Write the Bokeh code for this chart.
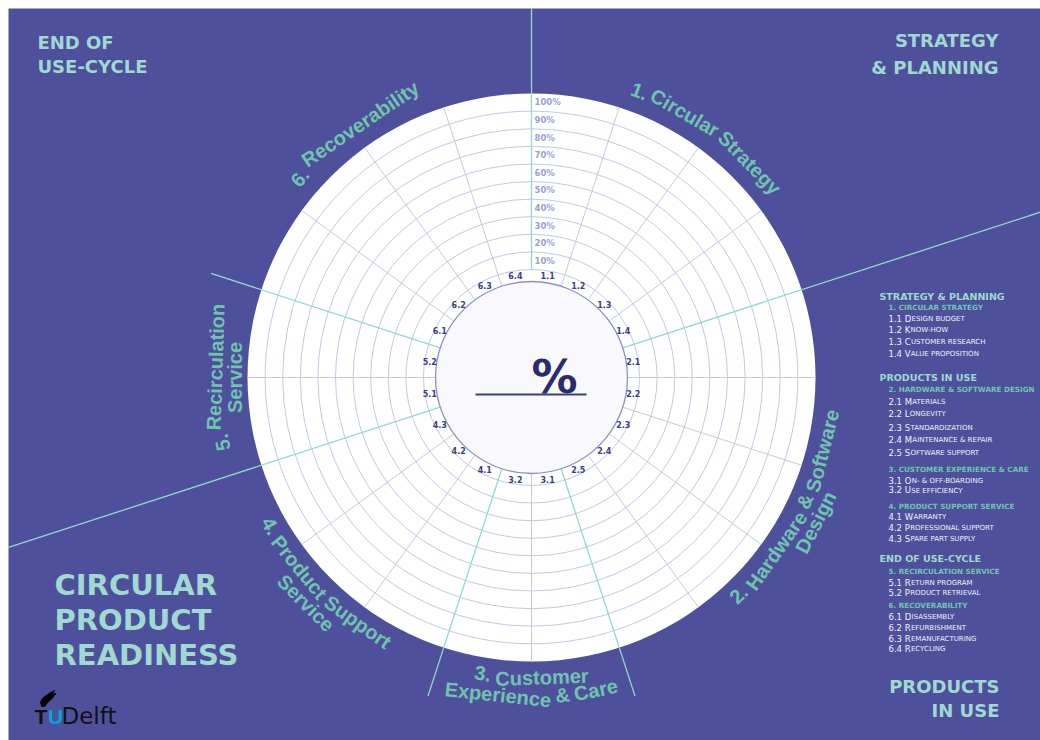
import math
from bokeh.plotting import figure
from bokeh.models import Range1d
from bokeh.embed import file_html
from bokeh.resources import INLINE
from bokeh.core.properties import value

# ---------------- data ----------------
SECTOR_LABEL_LINES = [
    ["1. Circular Strategy"],
    ["2. Hardware & Software", "Design"],
    ["3. Customer", "Experience & Care"],
    ["4. Product Support", "Service"],
    ["5. Recirculation", "Service"],
    ["6. Recoverability"],
]
SECTOR_ITEM_COUNTS = [4, 5, 2, 3, 2, 4]
ITEM_CODES = ["1.1", "1.2", "1.3", "1.4", "2.1", "2.2", "2.3", "2.4", "2.5",
              "3.1", "3.2", "4.1", "4.2", "4.3", "5.1", "5.2",
              "6.1", "6.2", "6.3", "6.4"]
ITEM_NAMES = ["Design budget", "Know-how", "Customer research", "Value proposition",
              "Materials", "Longevity", "Standardization", "Maintenance & repair",
              "Software support", "On- & off-boarding", "Use efficiency",
              "Warranty", "Professional support", "Spare part supply",
              "Return program", "Product retrieval",
              "Disassembly", "Refurbishment", "Remanufacturing", "Recycling"]
PERCENT_TICKS = [10, 20, 30, 40, 50, 60, 70, 80, 90, 100]
PHASES = ["STRATEGY & PLANNING", "PRODUCTS IN USE", "END OF USE-CYCLE"]
PHASE_SECTORS = [[0], [1, 2, 3], [4, 5]]
SECTOR_HEADINGS = ["1. CIRCULAR STRATEGY", "2. HARDWARE & SOFTWARE DESIGN",
                   "3. CUSTOMER EXPERIENCE & CARE", "4. PRODUCT SUPPORT SERVICE",
                   "5. RECIRCULATION SERVICE", "6. RECOVERABILITY"]
CORNER_TL = ["END OF", "USE-CYCLE"]
CORNER_TR = ["STRATEGY", "& PLANNING"]
CORNER_BR = ["PRODUCTS", "IN USE"]
TITLE_LINES = ["CIRCULAR", "PRODUCT", "READINESS"]
CENTER_SYMBOL = "%"
LOGO_PARTS = ["T", "U", "Delft"]

# ---------------- layout / style ----------------
W, H = 1040, 740
PAGE_L, PAGE_T = 8, 8          # white margin at top-left, as in the original page
BG = "#4f509b"
TEAL_LIGHT = "#9fd9d0"
TEAL = "#6fc4af"
SPOKE_TEAL = "#93d8cc"
GRID = "#c4c8e6"
NAVY = "#3b3d88"
PCT = "#9ba1d0"
ITEM_TXT = "#eef0fa"
MID = 0.346   # em-box middle above the baseline (DejaVu Sans)


def X(xi):
    return xi


def Y(yi):
    return H - yi


CXI, CYI = 531, 377
CX, CY = X(CXI), Y(CYI)
R_IN, R_LAB, R_OUT = 96, 108, 284
BAND = (R_OUT - R_LAB) / 10.0
N_ITEMS = sum(SECTOR_ITEM_COUNTS)
STEP = 360.0 / N_ITEMS


def pol(r, th):
    t = math.radians(th)
    return CX + r * math.sin(t), CY + r * math.cos(t)


def ray_end(th, rmax):
    """radius at which the ray leaves the purple panel (image coords)."""
    t = math.radians(th)
    dx, dy = math.sin(t), -math.cos(t)
    lim = [rmax]
    if dx > 1e-9:
        lim.append((W - CXI) / dx)
    elif dx < -1e-9:
        lim.append((PAGE_L - CXI) / dx)
    if dy > 1e-9:
        lim.append((H - CYI) / dy)
    elif dy < -1e-9:
        lim.append((PAGE_T - CYI) / dy)
    return min(lim)


# Liberation Sans Bold advance widths (em)
LSB = {" ": .278, "&": .722, "-": .333, ".": .278}
for c in "0123456789":
    LSB[c] = .556
LSB.update(dict(zip("ABCDEFGHIJKLMNOPQRSTUVWXYZ",
                    [.722, .722, .722, .722, .667, .611, .778, .722, .278, .556, .722, .611, .833,
                     .722, .778, .667, .778, .722, .667, .611, .722, .667, .944, .667, .667, .611])))
LSB.update(dict(zip("abcdefghijklmnopqrstuvwxyz",
                    [.556, .611, .556, .611, .556, .333, .611, .611, .278, .278, .556, .278, .889,
                     .611, .611, .611, .611, .389, .556, .333, .611, .556, .778, .556, .556, .5])))
# DejaVu Sans regular advance widths (em)
DVS = {" ": .318, ".": .318, "&": .780, "-": .361}
for c in "0123456789":
    DVS[c] = .636
DVS.update(dict(zip("ABCDEFGHIJKLMNOPQRSTUVWXYZ",
                    [.684, .686, .698, .770, .632, .575, .775, .752, .295, .295, .656, .557, .863,
                     .748, .787, .603, .787, .695, .635, .611, .732, .684, .989, .685, .611, .685])))


def tw(s, size, table):
    return sum(table.get(c, 0.6) for c in s) * size


p = figure(width=W, height=H, x_range=Range1d(0, W), y_range=Range1d(0, H),
           output_backend="svg", toolbar_location=None, min_border=0)
p.axis.visible = False
p.grid.visible = False
p.outline_line_color = None
p.background_fill_color = "white"
p.border_fill_color = "white"

# purple panel
p.quad(left=[PAGE_L], right=[W], bottom=[0], top=[H - PAGE_T], fill_color=BG, line_color=None)

# sector boundaries
starts = []
acc = 0
for n in SECTOR_ITEM_COUNTS:
    starts.append(acc)
    acc += n
bound_angles = [s * STEP for s in starts]
EXT = [2000, 2000, 335, 335, 2000, 337]

# outer disk
p.circle(x=[CX], y=[CY], radius=R_OUT, fill_color="white", line_color=None)
# rings
ring_r = [R_LAB + BAND * k for k in range(10)]
p.circle(x=[CX] * len(ring_r), y=[CY] * len(ring_r), radius=ring_r,
         fill_color=None, line_color=GRID, line_width=1)
# light spokes
x0, y0, x1, y1 = [], [], [], []
for k in range(N_ITEMS):
    th = k * STEP
    if th in bound_angles:
        continue
    a = pol(R_IN, th)
    b = pol(R_OUT, th)
    x0.append(a[0]); y0.append(a[1]); x1.append(b[0]); y1.append(b[1])
p.segment(x0=x0, y0=y0, x1=x1, y1=y1, line_color=GRID, line_width=1)
# teal boundary spokes (extending outside)
x0, y0, x1, y1 = [], [], [], []
for th, ext in zip(bound_angles, EXT):
    a = pol(R_LAB if th == 0 else R_IN, th)
    b = pol(ray_end(th, ext), th)
    x0.append(a[0]); y0.append(a[1]); x1.append(b[0]); y1.append(b[1])
p.segment(x0=x0, y0=y0, x1=x1, y1=y1, line_color=SPOKE_TEAL, line_width=1.3)

# inner circle
p.circle(x=[CX], y=[CY], radius=R_IN, fill_color="#f8f8fd", line_color="#8a8fc9", line_width=1.3)

# percent labels
p.text(x=[CX + 3] * 10, y=[CY + R_LAB + BAND * (i + 0.5) for i in range(10)],
       text=["%d%%" % v for v in PERCENT_TICKS], text_font=value("DejaVu Sans"),
       text_font_size="8.5px", text_font_style="bold", text_color=PCT,
       text_align="left", text_baseline="middle")

# item code labels
lx, ly = [], []
for k in range(N_ITEMS):
    xx, yy = pol(103, (k + 0.5) * STEP)
    lx.append(xx); ly.append(yy)
p.text(x=lx, y=ly, text=ITEM_CODES, text_font=value("DejaVu Sans"), text_font_size="8px",
       text_font_style="bold", text_color=NAVY, text_align="center", text_baseline="middle")

# curved sector labels (word by word along the arc)
FS = 20
GAP = 0.75 * tw(" ", FS, LSB)
wx, wy, wt, wa = [], [], [], []
for si, lines in enumerate(SECTOR_LABEL_LINES):
    mid = (starts[si] + SECTOR_ITEM_COUNTS[si] / 2.0) * STEP
    bottom = 90 < mid < 260
    if len(lines) == 1:
        radii = [306]
    elif bottom:
        radii = [300, 319]
    else:
        radii = [316, 297]
    for line, r in zip(lines, radii):
        words = line.split(" ")
        L = sum(tw(w, FS, LSB) for w in words) + GAP * (len(words) - 1)
        s = -L / 2.0
        for w in words:
            wl = tw(w, FS, LSB)
            sc = s + wl / 2.0
            dth = math.degrees(sc / r)
            th = mid - dth if bottom else mid + dth
            xx, yy = pol(r, th)
            wx.append(xx); wy.append(yy); wt.append(w)
            wa.append(math.pi - math.radians(th) if bottom else -math.radians(th))
            s += wl + GAP
p.text(x=wx, y=wy, text=wt, angle=wa, text_font=value("Liberation Sans"),
       text_font_size="%dpx" % FS, text_font_style="bold", text_color=TEAL,
       text_align="center", text_baseline="middle")

# center symbol
p.text(x=[X(554)], y=[Y(376)], text=[CENTER_SYMBOL], text_font=value("DejaVu Sans"),
       text_font_size="46px", text_font_style="bold", text_color="#2b2c6b",
       text_align="center", text_baseline="middle")
p.segment(x0=[X(475)], y0=[Y(394)], x1=[X(586)], y1=[Y(394)], line_color=NAVY, line_width=2)


# corner texts
def corner(lines, xi, centers, align, size):
    p.text(x=[X(xi)] * len(lines), y=[Y(c) for c in centers], text=lines,
           text_font=value("DejaVu Sans"), text_font_size=size, text_font_style="bold",
           text_color=TEAL_LIGHT, text_align=align, text_baseline="middle")


corner(CORNER_TL, 37, [41.5, 65.5], "left", "18px")
corner(CORNER_TR, 998, [40, 66.5], "right", "18px")
corner(CORNER_BR, 999, [686, 710], "right", "18px")
corner(TITLE_LINES, 54, [584, 619, 654], "left", "29px")

# legend
LEGEND_ROW_Y = [296, 307, 318, 329, 341, 353,
                377, 389, 401, 413, 427, 439, 452, 469, 480, 489.5, 506, 516, 527, 538,
                558, 571, 582, 592, 605, 616, 627, 638, 648]
rows = []
for ph, secs in zip(PHASES, PHASE_SECTORS):
    rows.append(("H", ph))
    for si in secs:
        rows.append(("S", SECTOR_HEADINGS[si]))
        for k in range(starts[si], starts[si] + SECTOR_ITEM_COUNTS[si]):
            rows.append(("I", k))
hx, hy, ht = [], [], []
sx, sy, st = [], [], []
px_, py_, pt_ = [], [], []
rx, ry, rt = [], [], []
PRE_FS, REST_FS = 8.5, 7.0
for (kind, v), yc in zip(rows, LEGEND_ROW_Y):
    if kind == "H":
        hx.append(X(879)); hy.append(Y(yc)); ht.append(v)
    elif kind == "S":
        sx.append(X(888)); sy.append(Y(yc)); st.append(v)
    else:
        name = ITEM_NAMES[v]
        pre = ITEM_CODES[v] + " " + name[0]
        rest = name[1:].upper()
        base = yc + 0.36 * PRE_FS
        px_.append(X(888)); py_.append(Y(base - MID * PRE_FS)); pt_.append(pre)
        rx.append(X(888) + tw(pre, PRE_FS, DVS) + 0.3)
        ry.append(Y(base - MID * REST_FS)); rt.append(rest)
p.text(x=hx, y=hy, text=ht, text_font=value("DejaVu Sans"), text_font_size="9.5px",
       text_font_style="bold", text_color=TEAL_LIGHT, text_baseline="middle")
p.text(x=sx, y=sy, text=st, text_font=value("DejaVu Sans"), text_font_size="7.2px",
       text_font_style="bold", text_color=TEAL, text_baseline="middle")
p.text(x=px_, y=py_, text=pt_, text_font=value("DejaVu Sans"), text_font_size="%gpx" % PRE_FS,
       text_color=ITEM_TXT, text_baseline="middle")
p.text(x=rx, y=ry, text=rt, text_font=value("DejaVu Sans"), text_font_size="%gpx" % REST_FS,
       text_color=ITEM_TXT, text_baseline="middle")

# TU Delft logo
flame_x = [41, 40, 41.5, 44, 47, 50, 54, 52, 55.5, 52.5, 49.5, 47, 45.5, 44]
flame_y = [706, 702, 698.5, 696, 694, 692, 690, 693.5, 693, 697, 700, 702, 704.5, 706]
p.patch(x=[X(v) for v in flame_x], y=[Y(v) for v in flame_y], fill_color="black",
        line_color="black", line_width=0.8)
p.text(x=[X(34)], y=[Y(715.5)], text=[LOGO_PARTS[0]], text_font=value("Liberation Sans"),
       text_font_size="21px", text_font_style="bold", text_color="#111111", text_baseline="middle")
p.text(x=[X(47.5)], y=[Y(715.5)], text=[LOGO_PARTS[1]], text_font=value("Liberation Sans"),
       text_font_size="21px", text_font_style="bold", text_color="#00a6d6", text_baseline="middle")
p.text(x=[X(61)], y=[Y(715.5)], text=[LOGO_PARTS[2]], text_font=value("DejaVu Sans"),
       text_font_size="23px", text_color="#111111", text_baseline="middle")

open("out.html", "w").write(file_html(p, INLINE, title="Circular Product Readiness"))
